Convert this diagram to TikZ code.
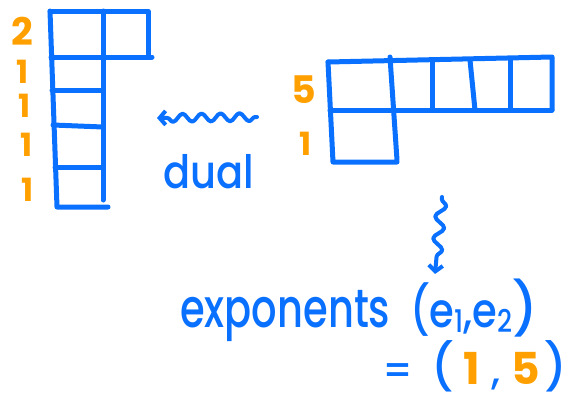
\documentclass[tikz,border=0pt]{standalone}
\usepackage{fontspec}
\setmainfont{Poppins}[BoldFont={Poppins Medium}]
\newfontfamily\numfont{Poppins}
\usetikzlibrary{decorations.pathmorphing,arrows.meta}
\definecolor{hblue}{RGB}{10,112,255}
\definecolor{horange}{RGB}{255,160,0}
\newcommand{\lowsub}[1]{\raisebox{-0.12em}{\fontsize{26}{26}\selectfont #1}}
\newcommand{\bigparen}[1]{\raisebox{0.02em}{\fontsize{46}{46}\selectfont #1}}
\newcommand{\orn}[1]{\textcolor{horange}{\fontsize{44}{44}\selectfont\numfont\bfseries #1}}
\begin{document}
\begin{tikzpicture}[x=1pt,y=-1pt,
  pen/.style={hblue,line width=5pt,line cap=round,line join=round},
  num/.style={horange,inner sep=0pt,font=\fontsize{38}{38}\selectfont\numfont\bfseries},
  numsmall/.style={horange,inner sep=0pt,font=\fontsize{32}{32}\selectfont\numfont\bfseries},
  word/.style={hblue,inner sep=0pt,anchor=base west,font=\fontsize{40}{40}\selectfont\bfseries},
  wiggle/.style={pen,line width=4pt,decorate,decoration={snake,amplitude=4pt,segment length=19pt,pre length=2pt,post length=8pt}}]
\useasboundingbox (0,0) rectangle (566,402);
% left diagram (partition 2,1,1,1,1)
\draw[pen] (50,11) -- (148,11) -- (148,57);
\draw[pen] (51,57) -- (152,57);
\draw[pen] (50,11) -- (57,207) -- (108,207);
\draw[pen] (103,11) -- (103,200);
\draw[pen] (52,90) -- (103,90);
\draw[pen] (53,125) -- (103,127);
\draw[pen] (55,167) -- (103,167);
\node[num] (l2) at (22,31) {2};
\node[numsmall] (l1a) at (23,72) {1};
\node[numsmall] (l1b) at (25,106) {1};
\node[numsmall] (l1c) at (27,145) {1};
\node[numsmall] (l1d) at (28,190) {1};
% right diagram (partition 5,1)
\draw[pen] (328,62) -- (552,57) -- (552,110);
\draw[pen] (330,110) -- (552,110);
\draw[pen] (328,62) -- (333,162) -- (397,162);
\draw[pen] (390,57) -- (397,160);
\draw[pen] (432,60) -- (432,110);
\draw[pen] (470,60) -- (475,110);
\draw[pen] (510,59) -- (510,110);
\node[num] (r5) at (304,90) {5};
\node[numsmall] (r1) at (306,144) {1};
% dual
\coordinate (da) at (257,117);
\coordinate (db) at (157,118);
\draw[wiggle,-{Straight Barb[length=6pt,width=14pt]}] (da) -- (db);
\node[word] (dual) at (163,188) {\scalebox{1}[1.15]{dual}};
% down arrow
\coordinate (wa) at (442,197);
\coordinate (wb) at (435,274);
\draw[wiggle,decoration={amplitude=5pt,segment length=22pt,post length=10pt},-{Straight Barb[length=6pt,width=14pt]}] (wa) -- (wb);
\node[word] (exp) at (180,327) {\scalebox{1}[1.35]{exponents}};
\node[word] (ee) at (410,327) {\scalebox{1}[1.2]{(e\lowsub{1},e\lowsub{2}}{\fontsize{52}{52}\selectfont )}};
\node[word] (eq) at (382,384) {=\hspace{0.45em}\bigparen{(}\hspace{0.25em}\orn{1}\hspace{0.28em},\hspace{0.28em}\orn{5}\hspace{0.1em}\bigparen{)}};
\end{tikzpicture}
\end{document}
